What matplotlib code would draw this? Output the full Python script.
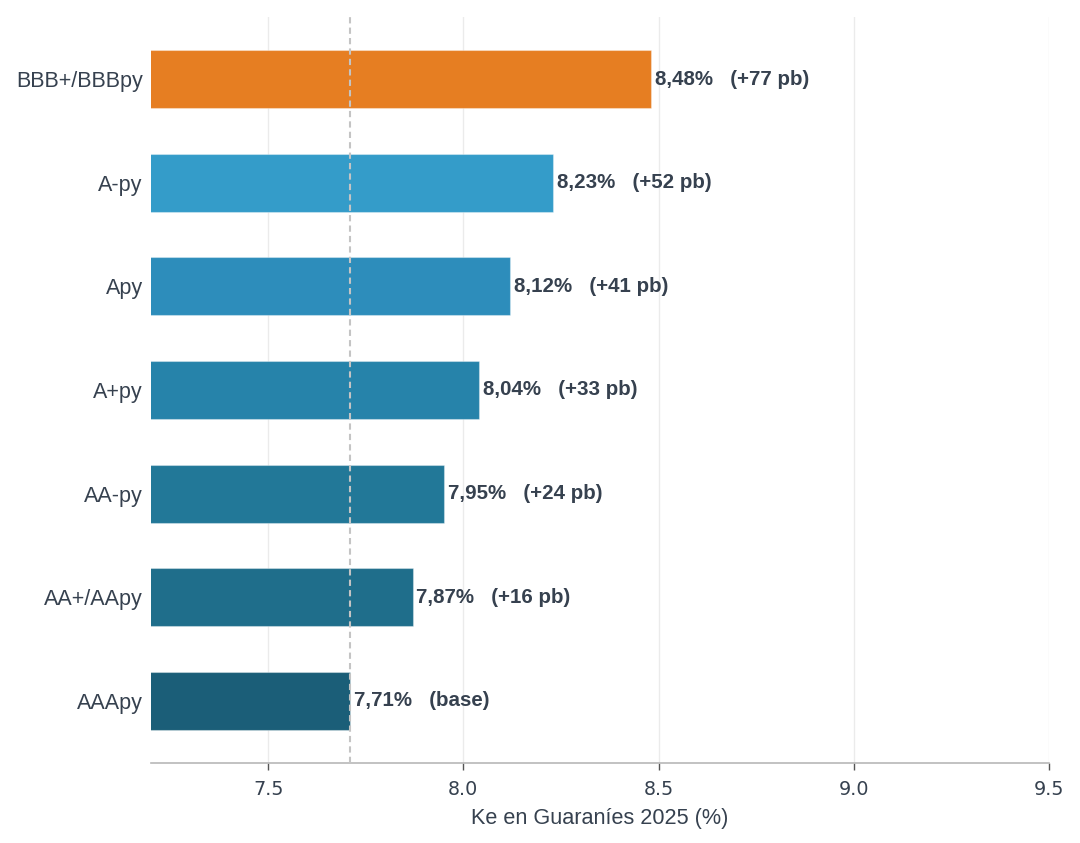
import matplotlib
matplotlib.use("Agg")
import matplotlib.pyplot as plt

categories = ["AAApy", "AA+/AApy", "AA-py", "A+py", "Apy", "A-py", "BBB+/BBBpy"]
ke_values = [7.71, 7.87, 7.95, 8.04, 8.12, 8.23, 8.48]
spread_labels = ["(base)", "(+16 pb)", "(+24 pb)", "(+33 pb)", "(+41 pb)", "(+52 pb)", "(+77 pb)"]
bar_colors = ["#1b5e78", "#1f6e8b", "#227898", "#2683aa", "#2d8dbb", "#349cc9", "#e67e22"]
base_value = 7.71
x_ticks = [7.5, 8.0, 8.5, 9.0, 9.5]

text_color = "#36414f"

fig = plt.figure(figsize=(10.8, 8.43), dpi=100)
ax = fig.add_axes([151/1080, 1 - 763/843, (1049-151)/1080, (763-17)/843])

y = list(range(len(categories)))
ax.barh(y, ke_values, height=0.56, color=bar_colors, edgecolor=(1, 1, 1, 0.35),
        linewidth=0.8, zorder=2)
ax.axvline(base_value, color="#c4c4c4", linestyle=(0, (3, 2)), linewidth=1.5, zorder=3)

for yi, v, s in zip(y, ke_values, spread_labels):
    txt = f"{v:.2f}".replace(".", ",") + "%   " + s
    ax.text(v + 0.01, yi, txt, va="center", ha="left", fontsize=14.8,
            fontweight="bold", color=text_color, family="Liberation Sans", zorder=4)

ax.set_xlim(7.2, 9.5)
ax.set_ylim(-0.6, 6.6)
ax.set_yticks(y)
ax.set_yticklabels(categories, family="Liberation Sans", fontsize=15.5, color=text_color)
ax.tick_params(axis="y", length=0, pad=6)
ax.set_xticks(x_ticks)
ax.set_xticklabels([f"{t:.1f}" for t in x_ticks], fontsize=13.8, color=text_color, family="DejaVu Sans")
ax.tick_params(axis="x", length=5, color="#555555", width=1, pad=7)
ax.grid(axis="x", color="#ebebeb", linewidth=1, zorder=0)
ax.set_axisbelow(True)
for sp in ["top", "right", "left"]:
    ax.spines[sp].set_visible(False)
ax.spines["bottom"].set_color("#b8b8b8")
ax.spines["bottom"].set_linewidth(1.2)
ax.set_xlabel("Ke en Guaraníes 2025 (%)", fontsize=15.6, color=text_color, family="Liberation Sans", labelpad=7)

fig.savefig("out.png", dpi=100, facecolor="white")
